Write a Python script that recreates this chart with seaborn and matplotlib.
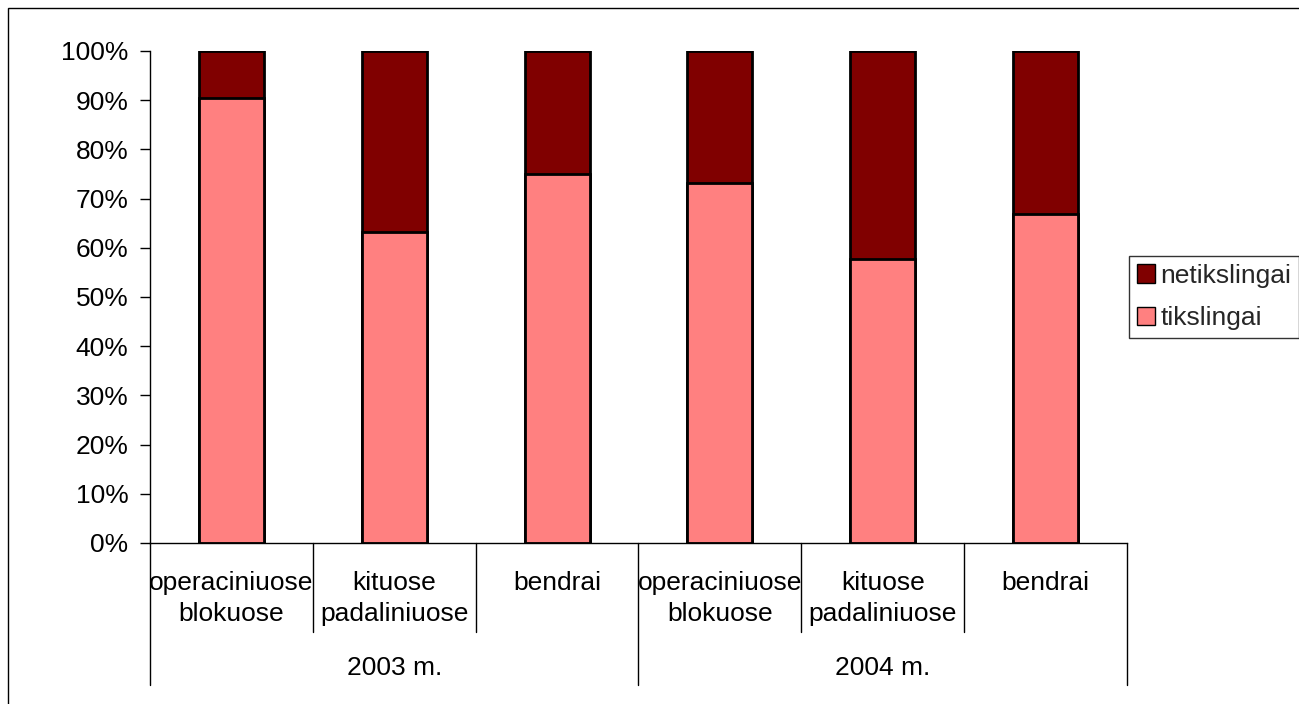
import matplotlib
matplotlib.use("Agg")
import matplotlib.pyplot as plt
import matplotlib.transforms as mtransforms
from matplotlib.patches import Patch, Rectangle
import seaborn as sns
import pandas as pd

# Share of prescriptions, per hospital unit and year (%)
years = ["2003 m.", "2004 m."]
units = ["operaciniuose\nblokuose", "kituose\npadaliniuose", "bendrai"]
tikslingai = [90.4, 63.3, 75.1, 73.1, 57.7, 66.9]
netikslingai = [9.6, 36.7, 24.9, 26.9, 42.3, 33.1]

labels = [f"{y}|{u}" for y in years for u in units]
df = pd.DataFrame({
    "grupe": labels,
    "tikslingai": tikslingai,
    "netikslingai": netikslingai,
})
df["viso"] = df["tikslingai"] + df["netikslingai"]

sns.set_theme(style="white")
plt.rcParams["font.family"] = ["Liberation Sans", "DejaVu Sans"]
FS = 19

fig = plt.figure(figsize=(12.99, 7.04), dpi=100)
ax = fig.add_axes([150 / 1299, 1 - 543 / 704, (1127 - 150) / 1299, (543 - 51) / 704])

dark = "#800000"
pink = "#FF8080"

sns.barplot(data=df, x="grupe", y="viso", color=dark, saturation=1,
            width=0.4, edgecolor="black", linewidth=2, ax=ax)
sns.barplot(data=df, x="grupe", y="tikslingai", color=pink, saturation=1,
            width=0.4, edgecolor="black", linewidth=2, ax=ax)

ax.set_xlim(-0.5, len(labels) - 0.5)
ax.set_ylim(0, 100)
ax.set_yticks(range(0, 101, 10))
ax.set_yticklabels([f"{v}%" for v in range(0, 101, 10)], fontsize=FS, color="black")
ax.tick_params(axis="y", direction="out", length=7, width=1, pad=8.5, left=True, color="black")
ax.tick_params(axis="x", bottom=False, labelbottom=False)
ax.set_xlabel("")
ax.set_ylabel("")
for s in ["top", "right"]:
    ax.spines[s].set_visible(False)
for s in ["left", "bottom"]:
    ax.spines[s].set_color("black")
    ax.spines[s].set_linewidth(1)

# Two-level category axis below the bars
trans = mtransforms.blended_transform_factory(ax.transData, ax.transAxes)
n = len(labels)
for i in range(n + 1):
    x = i - 0.5
    lower = -0.2886 if i % 3 == 0 else -0.181
    ax.plot([x, x], [0, lower], color="black", lw=1, transform=trans, clip_on=False)
line_y = [-0.0813, -0.1443]
for i, lab in enumerate(labels):
    unit = lab.split("|")[1]
    for k, part in enumerate(unit.split("\n")):
        ax.text(i, line_y[k], part, transform=trans, ha="center", va="center",
                fontsize=FS, color="black")
for j, y in enumerate(years):
    ax.text(3 * j + 1, -0.254, y, transform=trans, ha="center", va="center",
            fontsize=FS, color="black")

handles = [Patch(facecolor=dark, edgecolor="black", label="netikslingai"),
           Patch(facecolor=pink, edgecolor="black", label="tikslingai")]
leg = fig.legend(handles=handles, loc="upper left",
                 bbox_to_anchor=(1129 / 1299, 1 - 256 / 704),
                 fontsize=FS, frameon=True, fancybox=False, borderpad=0.3,
                 handlelength=0.7, handleheight=0.7, handletextpad=0.2,
                 labelspacing=0.7, borderaxespad=0)
leg.get_frame().set_edgecolor("black")
leg.get_frame().set_linewidth(1)

# Outer chart frame (runs past the right and bottom edges)
fig.patches.append(Rectangle((8 / 1299, -0.05), 1.1, 1.05 - 8 / 704,
                             transform=fig.transFigure, fill=False,
                             edgecolor="black", lw=1))

fig.savefig("out.png", dpi=100)
